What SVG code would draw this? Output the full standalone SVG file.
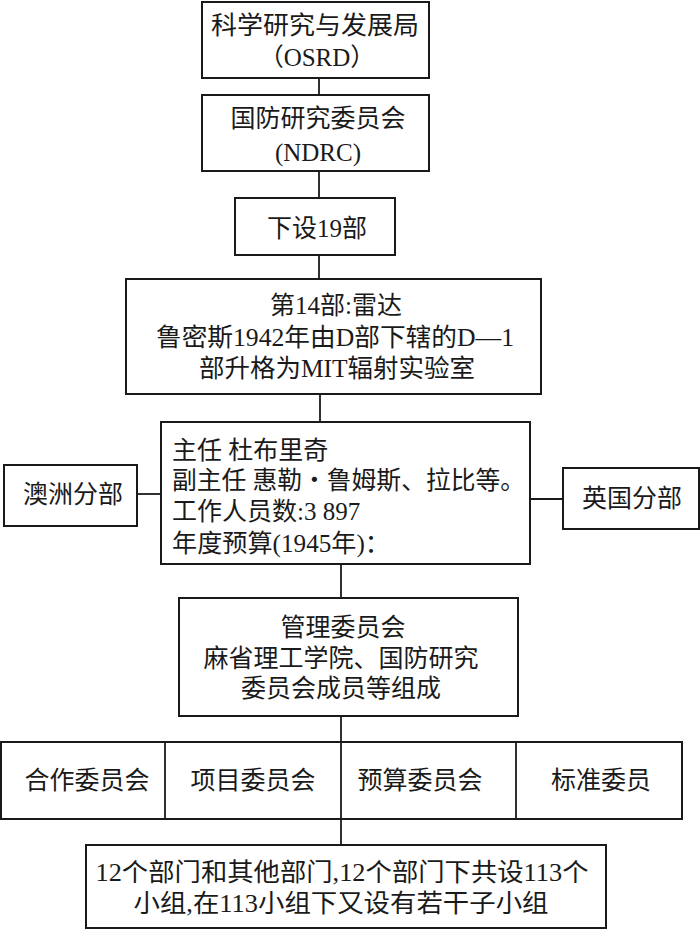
<svg xmlns="http://www.w3.org/2000/svg" width="700" height="930" viewBox="0 0 700 930">
<style>
.b{fill:#fff;stroke:#1a1a1a;stroke-width:2}
.c{stroke:#1a1a1a;stroke-width:1.8;fill:none}
text{font-family:"Liberation Serif","Noto Sans CJK SC",serif;font-size:25px;fill:#1a1a1a}
.m{text-anchor:middle}
</style>
<rect width="700" height="930" fill="#fff"/>
<g id="connectors">
<line class="c" x1="319" y1="78" x2="319" y2="95"/>
<line class="c" x1="319" y1="171" x2="319" y2="198"/>
<line class="c" x1="319" y1="255" x2="319" y2="279"/>
<line class="c" x1="320" y1="394" x2="320" y2="422"/>
<line class="c" x1="137" y1="494" x2="161" y2="494"/>
<line class="c" x1="530" y1="499" x2="563" y2="499"/>
<line class="c" x1="341" y1="564" x2="341" y2="598"/>
<line class="c" x1="341" y1="716" x2="341" y2="742"/>
<line class="c" x1="341" y1="819" x2="341" y2="845"/>
</g>
<g id="osrd">
<rect class="b" x="202" y="2" width="227" height="76"/>
<text class="m" x="315" y="34" textLength="208" lengthAdjust="spacingAndGlyphs">科学研究与发展局</text>
<text class="m" x="317" y="66">（OSRD）</text>
</g>
<g id="ndrc">
<rect class="b" x="202" y="95" width="227" height="76"/>
<text class="m" x="318" y="127">国防研究委员会</text>
<text class="m" x="318" y="161">(NDRC)</text>
</g>
<g id="div19">
<rect class="b" x="235" y="198" width="160" height="57"/>
<text class="m" x="317" y="237">下设19部</text>
</g>
<g id="div14">
<rect class="b" x="126" y="279" width="415" height="115"/>
<text class="m" x="336" y="314">第14部:雷达</text>
<text class="m" x="335" y="346" textLength="358" lengthAdjust="spacingAndGlyphs">鲁密斯1942年由D部下辖的D—1</text>
<text class="m" x="337" y="377" textLength="276" lengthAdjust="spacingAndGlyphs">部升格为MIT辐射实验室</text>
</g>
<g id="aus">
<rect class="b" x="4" y="465" width="133" height="61"/>
<text class="m" x="73" y="503">澳洲分部</text>
</g>
<g id="mit">
<rect class="b" x="161" y="422" width="369" height="142"/>
<text x="172" y="459">主任  杜布里奇</text>
<text x="172" y="489" textLength="353" lengthAdjust="spacingAndGlyphs">副主任 惠勒・鲁姆斯、拉比等。</text>
<text x="172" y="520">工作人员数:3 897</text>
<text x="172" y="552" textLength="218" lengthAdjust="spacingAndGlyphs">年度预算(1945年)：</text>
</g>
<g id="uk">
<rect class="b" x="563" y="468" width="136" height="61"/>
<text class="m" x="632" y="507">英国分部</text>
</g>
<g id="mgmt">
<rect class="b" x="179" y="598" width="339" height="118"/>
<text class="m" x="343" y="636">管理委员会</text>
<text class="m" x="341" y="667">麻省理工学院、国防研究</text>
<text class="m" x="341" y="697">委员会成员等组成</text>
</g>
<g id="committees">
<rect class="b" x="1" y="742" width="681" height="77"/>
<line class="c" x1="165" y1="742" x2="165" y2="819"/>
<line class="c" x1="341" y1="742" x2="341" y2="819"/>
<line class="c" x1="516" y1="742" x2="516" y2="819"/>
<text class="m" x="87" y="789">合作委员会</text>
<text class="m" x="253" y="789">项目委员会</text>
<text class="m" x="420" y="789">预算委员会</text>
<text class="m" x="601" y="789">标准委员</text>
</g>
<g id="groups">
<rect class="b" x="86" y="845" width="520" height="83"/>
<text class="m" x="342" y="881" textLength="493" lengthAdjust="spacingAndGlyphs">12个部门和其他部门,12个部门下共设113个</text>
<text class="m" x="341" y="912" textLength="415" lengthAdjust="spacingAndGlyphs">小组,在113小组下又设有若干子小组</text>
</g>
</svg>
